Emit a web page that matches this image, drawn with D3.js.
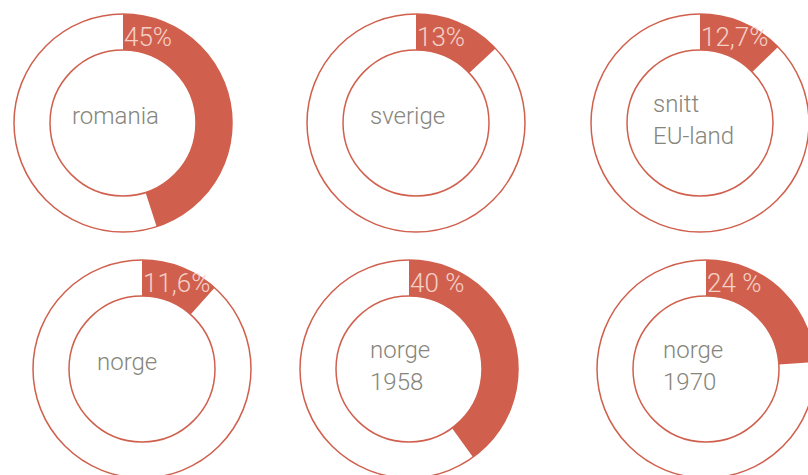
<!DOCTYPE html>
<html lang="no">
<head>
    <meta charset="UTF-8">
    <title>Andel</title>
    <style>
        body { margin: 0; background: #fff; }
        text { font-family: Roboto, "Open Sans", sans-serif; font-weight: 300; }
    </style>
</head>
<body>
    <script src="https://d3js.org/d3.v7.min.js"></script>
    <script>
        // data
        const names = [["romania"], ["sverige"], ["snitt", "EU-land"], ["norge"], ["norge", "1958"], ["norge", "1970"]];
        const values = [45, 13, 12.7, 11.6, 40, 24];
        const valueLabels = ["45%", "13%", "12,7%", "11,6%", "40 %", "24 %"];

        // layout: where each ring sits, and where its name starts
        const centers = [[123, 123], [416, 123], [700, 123], [142, 369], [409, 369], [706, 369]];
        const nameDx = [-51, -46, -47, -45, -39, -43];

        const W = 808, H = 475;
        const rOut = 109, rIn = 73;
        const red = '#d0604d';

        const svg = d3.select('body').append('svg')
            .attr('width', W)
            .attr('height', H);

        const angle = d3.scaleLinear().domain([0, 100]).range([0, 2 * Math.PI]);
        const arc = d3.arc().innerRadius(rIn).outerRadius(rOut);

        const g = svg.selectAll('g.ring')
            .data(values)
            .enter()
            .append('g')
            .attr('class', 'ring')
            .attr('transform', (d, i) => `translate(${centers[i][0]},${centers[i][1]})`);

        g.append('path')
            .attr('d', d => arc({ startAngle: 0, endAngle: angle(d) }))
            .attr('fill', red);

        g.append('circle')
            .attr('r', rOut)
            .attr('fill', 'none')
            .attr('stroke', red)
            .attr('stroke-width', 1.5);

        g.append('circle')
            .attr('r', rIn)
            .attr('fill', 'none')
            .attr('stroke', red)
            .attr('stroke-width', 1.5);

        g.append('text')
            .text((d, i) => valueLabels[i])
            .attr('x', 1)
            .attr('y', -rOut + 32)
            .attr('font-size', 26)
            .attr('fill', '#f4d0c7');

        g.each(function (d, i) {
            const lines = names[i];
            const t = d3.select(this).append('text')
                .attr('font-size', 24)
                .attr('fill', '#86857c');
            lines.forEach((s, j) => {
                const y = lines.length === 1 ? 1 : (j === 0 ? -11 : 21);
                t.append('tspan')
                    .attr('x', nameDx[i])
                    .attr('y', y)
                    .text(s);
            });
        });
    </script>
</body>
</html>
